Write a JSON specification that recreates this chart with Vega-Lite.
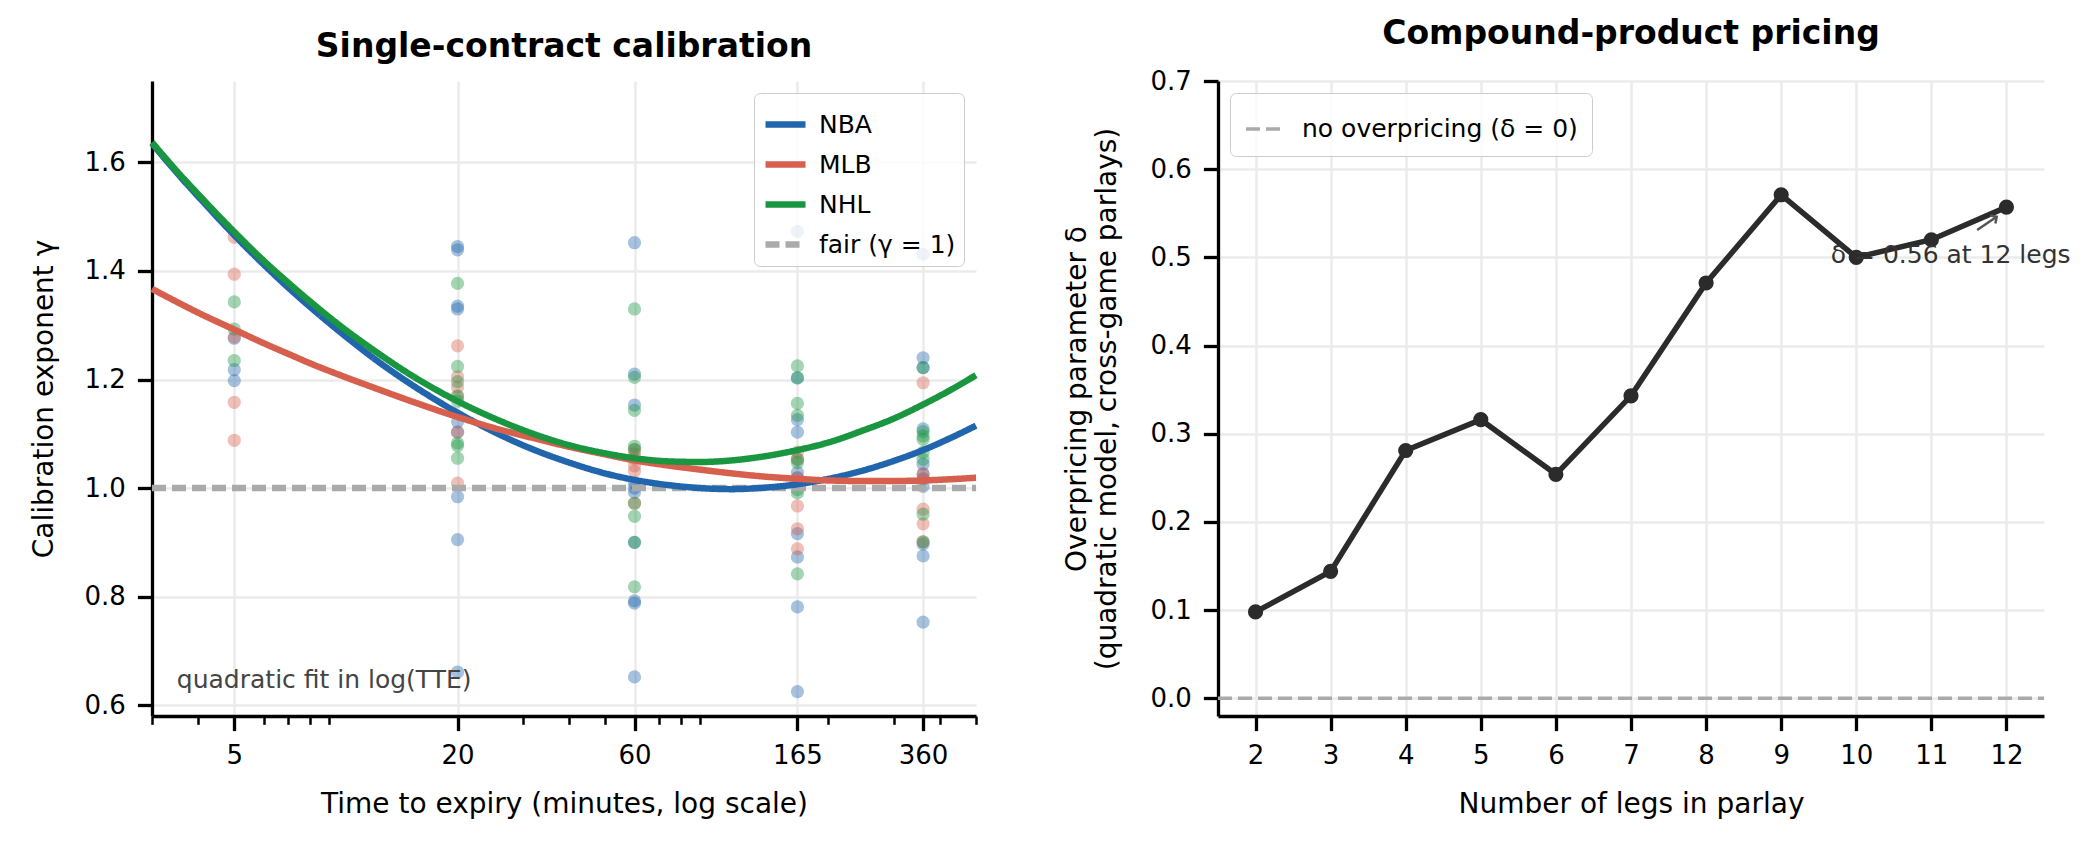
{
  "$schema": "https://vega.github.io/schema/vega-lite/v6.json",
  "background": "white",
  "padding": {"left": 30, "top": 18, "right": 0, "bottom": 0},
  "spacing": 74,
  "resolve": {"scale": {"color": "independent", "strokeDash": "independent", "strokeWidth": "independent"}, "legend": {"color": "independent", "strokeDash": "independent", "strokeWidth": "independent"}},
  "config": {
    "font": "DejaVu Sans",
    "view": {"stroke": null},
    "axis": {
      "domainColor": "#000000", "domainWidth": 3.3,
      "tickColor": "#000000", "tickWidth": 3.3, "tickSize": 14.6,
      "labelFont": "DejaVu Sans", "labelFontSize": 26, "labelColor": "#000000", "labelPadding": 12,
      "titleFont": "DejaVu Sans", "titleFontSize": 28, "titleFontWeight": "normal", "titleColor": "#000000",
      "gridColor": "#ebebeb", "gridWidth": 2.5
    },
    "title": {"font": "DejaVu Sans", "fontSize": 33, "fontWeight": "bold", "color": "#000000", "offset": 17, "baseline": "alphabetic", "frame": "group", "anchor": "middle"},
    "legend": {"labelFont": "DejaVu Sans", "labelFontSize": 25, "labelColor": "#000000", "labelLimit": 0}
  },
  "datasets": {
    "scatter": [
      {"tte": 5, "gamma": 1.276, "league": "NBA"}, {"tte": 5, "gamma": 1.218, "league": "NBA"}, {"tte": 5, "gamma": 1.198, "league": "NBA"},
      {"tte": 5, "gamma": 1.462, "league": "MLB"}, {"tte": 5, "gamma": 1.394, "league": "MLB"}, {"tte": 5, "gamma": 1.278, "league": "MLB"}, {"tte": 5, "gamma": 1.158, "league": "MLB"}, {"tte": 5, "gamma": 1.088, "league": "MLB"},
      {"tte": 5, "gamma": 1.343, "league": "NHL"}, {"tte": 5, "gamma": 1.293, "league": "NHL"}, {"tte": 5, "gamma": 1.235, "league": "NHL"},
      {"tte": 20, "gamma": 1.445, "league": "NBA"}, {"tte": 20, "gamma": 1.439, "league": "NBA"}, {"tte": 20, "gamma": 1.335, "league": "NBA"}, {"tte": 20, "gamma": 1.330, "league": "NBA"}, {"tte": 20, "gamma": 1.122, "league": "NBA"}, {"tte": 20, "gamma": 1.103, "league": "NBA"}, {"tte": 20, "gamma": 0.984, "league": "NBA"}, {"tte": 20, "gamma": 0.905, "league": "NBA"}, {"tte": 20, "gamma": 0.661, "league": "NBA"},
      {"tte": 20, "gamma": 1.262, "league": "MLB"}, {"tte": 20, "gamma": 1.205, "league": "MLB"}, {"tte": 20, "gamma": 1.186, "league": "MLB"}, {"tte": 20, "gamma": 1.168, "league": "MLB"}, {"tte": 20, "gamma": 1.103, "league": "MLB"}, {"tte": 20, "gamma": 1.009, "league": "MLB"},
      {"tte": 20, "gamma": 1.377, "league": "NHL"}, {"tte": 20, "gamma": 1.224, "league": "NHL"}, {"tte": 20, "gamma": 1.196, "league": "NHL"}, {"tte": 20, "gamma": 1.170, "league": "NHL"}, {"tte": 20, "gamma": 1.160, "league": "NHL"}, {"tte": 20, "gamma": 1.083, "league": "NHL"}, {"tte": 20, "gamma": 1.078, "league": "NHL"}, {"tte": 20, "gamma": 1.055, "league": "NHL"},
      {"tte": 60, "gamma": 1.452, "league": "NBA"}, {"tte": 60, "gamma": 1.210, "league": "NBA"}, {"tte": 60, "gamma": 1.153, "league": "NBA"}, {"tte": 60, "gamma": 1.009, "league": "NBA"}, {"tte": 60, "gamma": 1.000, "league": "NBA"}, {"tte": 60, "gamma": 0.992, "league": "NBA"}, {"tte": 60, "gamma": 0.900, "league": "NBA"}, {"tte": 60, "gamma": 0.792, "league": "NBA"}, {"tte": 60, "gamma": 0.788, "league": "NBA"}, {"tte": 60, "gamma": 0.652, "league": "NBA"},
      {"tte": 60, "gamma": 1.071, "league": "MLB"}, {"tte": 60, "gamma": 1.063, "league": "MLB"}, {"tte": 60, "gamma": 1.054, "league": "MLB"}, {"tte": 60, "gamma": 1.041, "league": "MLB"}, {"tte": 60, "gamma": 1.031, "league": "MLB"}, {"tte": 60, "gamma": 0.972, "league": "MLB"},
      {"tte": 60, "gamma": 1.330, "league": "NHL"}, {"tte": 60, "gamma": 1.204, "league": "NHL"}, {"tte": 60, "gamma": 1.143, "league": "NHL"}, {"tte": 60, "gamma": 1.077, "league": "NHL"}, {"tte": 60, "gamma": 1.071, "league": "NHL"}, {"tte": 60, "gamma": 0.972, "league": "NHL"}, {"tte": 60, "gamma": 0.948, "league": "NHL"}, {"tte": 60, "gamma": 0.900, "league": "NHL"}, {"tte": 60, "gamma": 0.818, "league": "NHL"},
      {"tte": 165, "gamma": 1.473, "league": "NBA"}, {"tte": 165, "gamma": 1.203, "league": "NBA"}, {"tte": 165, "gamma": 1.126, "league": "NBA"}, {"tte": 165, "gamma": 1.103, "league": "NBA"}, {"tte": 165, "gamma": 1.029, "league": "NBA"}, {"tte": 165, "gamma": 1.019, "league": "NBA"}, {"tte": 165, "gamma": 0.916, "league": "NBA"}, {"tte": 165, "gamma": 0.873, "league": "NBA"}, {"tte": 165, "gamma": 0.781, "league": "NBA"}, {"tte": 165, "gamma": 0.625, "league": "NBA"},
      {"tte": 165, "gamma": 1.066, "league": "MLB"}, {"tte": 165, "gamma": 1.053, "league": "MLB"}, {"tte": 165, "gamma": 1.019, "league": "MLB"}, {"tte": 165, "gamma": 0.967, "league": "MLB"}, {"tte": 165, "gamma": 0.925, "league": "MLB"}, {"tte": 165, "gamma": 0.888, "league": "MLB"},
      {"tte": 165, "gamma": 1.225, "league": "NHL"}, {"tte": 165, "gamma": 1.203, "league": "NHL"}, {"tte": 165, "gamma": 1.156, "league": "NHL"}, {"tte": 165, "gamma": 1.134, "league": "NHL"}, {"tte": 165, "gamma": 1.053, "league": "NHL"}, {"tte": 165, "gamma": 1.047, "league": "NHL"}, {"tte": 165, "gamma": 1.006, "league": "NHL"}, {"tte": 165, "gamma": 0.997, "league": "NHL"}, {"tte": 165, "gamma": 0.991, "league": "NHL"}, {"tte": 165, "gamma": 0.842, "league": "NHL"},
      {"tte": 360, "gamma": 1.431, "league": "NBA"}, {"tte": 360, "gamma": 1.240, "league": "NBA"}, {"tte": 360, "gamma": 1.222, "league": "NBA"}, {"tte": 360, "gamma": 1.109, "league": "NBA"}, {"tte": 360, "gamma": 1.044, "league": "NBA"}, {"tte": 360, "gamma": 1.026, "league": "NBA"}, {"tte": 360, "gamma": 1.017, "league": "NBA"}, {"tte": 360, "gamma": 1.003, "league": "NBA"}, {"tte": 360, "gamma": 0.897, "league": "NBA"}, {"tte": 360, "gamma": 0.875, "league": "NBA"}, {"tte": 360, "gamma": 0.753, "league": "NBA"},
      {"tte": 360, "gamma": 1.194, "league": "MLB"}, {"tte": 360, "gamma": 1.026, "league": "MLB"}, {"tte": 360, "gamma": 1.017, "league": "MLB"}, {"tte": 360, "gamma": 0.961, "league": "MLB"}, {"tte": 360, "gamma": 0.934, "league": "MLB"}, {"tte": 360, "gamma": 0.901, "league": "MLB"},
      {"tte": 360, "gamma": 1.222, "league": "NHL"}, {"tte": 360, "gamma": 1.104, "league": "NHL"}, {"tte": 360, "gamma": 1.096, "league": "NHL"}, {"tte": 360, "gamma": 1.090, "league": "NHL"}, {"tte": 360, "gamma": 1.066, "league": "NHL"}, {"tte": 360, "gamma": 1.053, "league": "NHL"}, {"tte": 360, "gamma": 0.952, "league": "NHL"}, {"tte": 360, "gamma": 0.901, "league": "NHL"}
    ],
    "curves": [
      {"tte": 3, "gamma": 1.0, "series": "fair (γ = 1)"}, {"tte": 500, "gamma": 1.0, "series": "fair (γ = 1)"},
      {"tte": 3, "gamma": 1.635, "series": "NBA"}, {"tte": 3.5, "gamma": 1.581, "series": "NBA"}, {"tte": 4, "gamma": 1.537, "series": "NBA"}, {"tte": 5, "gamma": 1.466, "series": "NBA"}, {"tte": 6, "gamma": 1.412, "series": "NBA"}, {"tte": 7, "gamma": 1.369, "series": "NBA"}, {"tte": 8, "gamma": 1.334, "series": "NBA"}, {"tte": 10, "gamma": 1.279, "series": "NBA"}, {"tte": 12, "gamma": 1.237, "series": "NBA"}, {"tte": 15, "gamma": 1.191, "series": "NBA"}, {"tte": 20, "gamma": 1.139, "series": "NBA"}, {"tte": 25, "gamma": 1.104, "series": "NBA"}, {"tte": 30, "gamma": 1.079, "series": "NBA"}, {"tte": 40, "gamma": 1.047, "series": "NBA"}, {"tte": 50, "gamma": 1.027, "series": "NBA"}, {"tte": 60, "gamma": 1.015, "series": "NBA"}, {"tte": 75, "gamma": 1.005, "series": "NBA"}, {"tte": 90, "gamma": 1.000, "series": "NBA"}, {"tte": 110, "gamma": 0.998, "series": "NBA"}, {"tte": 130, "gamma": 1.000, "series": "NBA"}, {"tte": 165, "gamma": 1.007, "series": "NBA"}, {"tte": 200, "gamma": 1.017, "series": "NBA"}, {"tte": 250, "gamma": 1.033, "series": "NBA"}, {"tte": 300, "gamma": 1.050, "series": "NBA"}, {"tte": 360, "gamma": 1.070, "series": "NBA"}, {"tte": 420, "gamma": 1.090, "series": "NBA"}, {"tte": 500, "gamma": 1.115, "series": "NBA"},
      {"tte": 3, "gamma": 1.367, "series": "MLB"}, {"tte": 3.5, "gamma": 1.343, "series": "MLB"}, {"tte": 4, "gamma": 1.323, "series": "MLB"}, {"tte": 5, "gamma": 1.292, "series": "MLB"}, {"tte": 6, "gamma": 1.267, "series": "MLB"}, {"tte": 7, "gamma": 1.247, "series": "MLB"}, {"tte": 8, "gamma": 1.230, "series": "MLB"}, {"tte": 10, "gamma": 1.204, "series": "MLB"}, {"tte": 12, "gamma": 1.184, "series": "MLB"}, {"tte": 15, "gamma": 1.160, "series": "MLB"}, {"tte": 20, "gamma": 1.131, "series": "MLB"}, {"tte": 25, "gamma": 1.111, "series": "MLB"}, {"tte": 30, "gamma": 1.097, "series": "MLB"}, {"tte": 40, "gamma": 1.076, "series": "MLB"}, {"tte": 50, "gamma": 1.062, "series": "MLB"}, {"tte": 60, "gamma": 1.051, "series": "MLB"}, {"tte": 75, "gamma": 1.041, "series": "MLB"}, {"tte": 90, "gamma": 1.034, "series": "MLB"}, {"tte": 110, "gamma": 1.027, "series": "MLB"}, {"tte": 130, "gamma": 1.022, "series": "MLB"}, {"tte": 165, "gamma": 1.017, "series": "MLB"}, {"tte": 200, "gamma": 1.014, "series": "MLB"}, {"tte": 250, "gamma": 1.013, "series": "MLB"}, {"tte": 300, "gamma": 1.013, "series": "MLB"}, {"tte": 360, "gamma": 1.014, "series": "MLB"}, {"tte": 420, "gamma": 1.016, "series": "MLB"}, {"tte": 500, "gamma": 1.019, "series": "MLB"},
      {"tte": 3, "gamma": 1.637, "series": "NHL"}, {"tte": 3.5, "gamma": 1.584, "series": "NHL"}, {"tte": 4, "gamma": 1.541, "series": "NHL"}, {"tte": 5, "gamma": 1.472, "series": "NHL"}, {"tte": 6, "gamma": 1.419, "series": "NHL"}, {"tte": 7, "gamma": 1.378, "series": "NHL"}, {"tte": 8, "gamma": 1.344, "series": "NHL"}, {"tte": 10, "gamma": 1.291, "series": "NHL"}, {"tte": 12, "gamma": 1.252, "series": "NHL"}, {"tte": 15, "gamma": 1.208, "series": "NHL"}, {"tte": 20, "gamma": 1.160, "series": "NHL"}, {"tte": 25, "gamma": 1.129, "series": "NHL"}, {"tte": 30, "gamma": 1.107, "series": "NHL"}, {"tte": 40, "gamma": 1.079, "series": "NHL"}, {"tte": 50, "gamma": 1.064, "series": "NHL"}, {"tte": 60, "gamma": 1.055, "series": "NHL"}, {"tte": 75, "gamma": 1.049, "series": "NHL"}, {"tte": 90, "gamma": 1.048, "series": "NHL"}, {"tte": 110, "gamma": 1.051, "series": "NHL"}, {"tte": 130, "gamma": 1.057, "series": "NHL"}, {"tte": 165, "gamma": 1.070, "series": "NHL"}, {"tte": 200, "gamma": 1.084, "series": "NHL"}, {"tte": 250, "gamma": 1.107, "series": "NHL"}, {"tte": 300, "gamma": 1.128, "series": "NHL"}, {"tte": 360, "gamma": 1.154, "series": "NHL"}, {"tte": 420, "gamma": 1.178, "series": "NHL"}, {"tte": 500, "gamma": 1.208, "series": "NHL"}
    ],
    "minorTicks": [
      {"tte": 3}, {"tte": 4}, {"tte": 6}, {"tte": 7}, {"tte": 8}, {"tte": 9}, {"tte": 30}, {"tte": 40}, {"tte": 50}, {"tte": 70}, {"tte": 80}, {"tte": 90}, {"tte": 200}, {"tte": 300}, {"tte": 400}, {"tte": 500}
    ],
    "parlay": [
      {"legs": 2, "delta": 0.098}, {"legs": 3, "delta": 0.144}, {"legs": 4, "delta": 0.281}, {"legs": 5, "delta": 0.316}, {"legs": 6, "delta": 0.254}, {"legs": 7, "delta": 0.343}, {"legs": 8, "delta": 0.471}, {"legs": 9, "delta": 0.571}, {"legs": 10, "delta": 0.500}, {"legs": 11, "delta": 0.520}, {"legs": 12, "delta": 0.557}
    ],
    "zeroLine": [
      {"legs": 1.5, "delta": 0}, {"legs": 12.5, "delta": 0}
    ]
  },
  "hconcat": [
    {
      "title": {"text": "Single-contract calibration"},
      "width": 824,
      "height": 635,
      "layer": [
        {
          "data": {"name": "scatter"},
          "mark": {"type": "circle", "size": 175, "opacity": 0.4},
          "encoding": {
            "x": {"field": "tte", "type": "quantitative", "scale": {"type": "log", "domain": [3, 500], "nice": false},
                  "axis": {"values": [5, 20, 60, 165, 360], "format": "d", "title": "Time to expiry (minutes, log scale)", "grid": true, "titlePadding": 22}},
            "y": {"field": "gamma", "type": "quantitative", "scale": {"domain": [0.58, 1.75], "nice": false, "zero": false},
                  "axis": {"values": [0.6, 0.8, 1.0, 1.2, 1.4, 1.6], "format": ".1f", "title": "Calibration exponent γ", "grid": true, "titlePadding": 26}},
            "color": {"field": "league", "type": "nominal", "scale": {"domain": ["NBA", "MLB", "NHL"], "range": ["#2166ac", "#d6604d", "#1a9641"]}, "legend": null}
          }
        },
        {
          "data": {"name": "curves"},
          "mark": {"type": "line", "interpolate": "monotone"},
          "encoding": {
            "x": {"field": "tte", "type": "quantitative", "scale": {"type": "log", "domain": [3, 500], "nice": false}, "axis": null},
            "y": {"field": "gamma", "type": "quantitative"},
            "color": {"field": "series", "type": "nominal",
                      "scale": {"domain": ["NBA", "MLB", "NHL", "fair (γ = 1)"], "range": ["#2166ac", "#d6604d", "#1a9641", "#aaaaaa"]},
                      "legend": {"title": null, "orient": "top-right", "offset": 12, "symbolType": "stroke", "symbolSize": 1600, "labelOffset": 10, "padding": 8, "rowPadding": 3, "strokeColor": "#cccccc", "fillColor": "rgba(255,255,255,0.8)", "cornerRadius": 6}},
            "strokeDash": {"field": "series", "type": "nominal",
                      "scale": {"domain": ["NBA", "MLB", "NHL", "fair (γ = 1)"], "range": [[1, 0], [1, 0], [1, 0], [14, 6]]},
                      "legend": {"title": null, "orient": "top-right", "offset": 12, "symbolType": "stroke", "symbolSize": 1600, "labelOffset": 10, "padding": 8, "rowPadding": 3, "strokeColor": "#cccccc", "fillColor": "rgba(255,255,255,0.8)", "cornerRadius": 6}},
            "strokeWidth": {"field": "series", "type": "nominal",
                      "scale": {"domain": ["NBA", "MLB", "NHL", "fair (γ = 1)"], "range": [6.5, 6.5, 6.5, 3.5]},
                      "legend": {"title": null, "orient": "top-right", "offset": 12, "symbolType": "stroke", "symbolSize": 1600, "labelOffset": 10, "padding": 8, "rowPadding": 3, "strokeColor": "#cccccc", "fillColor": "rgba(255,255,255,0.8)", "cornerRadius": 6}}
          }
        },
        {
          "data": {"values": [{}]},
          "mark": {"type": "text", "align": "left", "baseline": "middle", "fontSize": 25, "color": "#444444"},
          "encoding": {
            "x": {"datum": 3.5, "type": "quantitative", "scale": {"type": "log", "domain": [3, 500], "nice": false}, "axis": null},
            "y": {"datum": 0.646, "type": "quantitative"},
            "text": {"value": "quadratic fit in log(TTE)"}
          }
        },
        {
          "data": {"name": "minorTicks"},
          "mark": {"type": "point", "opacity": 0},
          "encoding": {
            "x": {"field": "tte", "type": "quantitative", "scale": {"type": "log", "domain": [3, 500], "nice": false},
                  "axis": {"orient": "bottom", "values": [3, 4, 6, 7, 8, 9, 30, 40, 50, 70, 80, 90, 200, 300, 400, 500], "labels": false, "domain": false, "grid": false, "title": null, "tickSize": 8.3, "tickWidth": 2.5}}
          }
        }
      ],
      "resolve": {"scale": {"color": "independent", "strokeDash": "independent", "strokeWidth": "independent"}, "axis": {"x": "independent"}}
    },
    {
      "title": {"text": "Compound-product pricing"},
      "width": 826,
      "height": 635,
      "layer": [
        {
          "data": {"name": "zeroLine"},
          "mark": {"type": "line", "strokeWidth": 3.5},
          "encoding": {
            "x": {"field": "legs", "type": "quantitative", "scale": {"domain": [1.5, 12.5], "nice": false, "zero": false},
                  "axis": {"values": [2, 3, 4, 5, 6, 7, 8, 9, 10, 11, 12], "format": "d", "title": "Number of legs in parlay", "grid": true, "titlePadding": 22}},
            "y": {"field": "delta", "type": "quantitative", "scale": {"domain": [-0.02, 0.7], "nice": false, "zero": false},
                  "axis": {"values": [0, 0.1, 0.2, 0.3, 0.4, 0.5, 0.6, 0.7], "format": ".1f", "title": ["Overpricing parameter δ", "(quadratic model, cross-game parlays)"], "titleLineHeight": 30, "grid": true, "titlePadding": 29}},
            "color": {"datum": "no overpricing (δ = 0)", "type": "nominal", "scale": {"range": ["#aaaaaa"]},
                      "legend": {"title": null, "orient": "top-left", "offset": 12, "symbolType": "stroke", "symbolSize": 1600, "symbolStrokeWidth": 3.5, "labelOffset": 14, "padding": 14, "strokeColor": "#cccccc", "fillColor": "rgba(255,255,255,0.8)", "cornerRadius": 6}},
            "strokeDash": {"datum": "no overpricing (δ = 0)", "type": "nominal", "scale": {"range": [[14, 6]]},
                      "legend": {"title": null, "orient": "top-left", "offset": 12, "symbolType": "stroke", "symbolSize": 1600, "symbolStrokeWidth": 3.5, "labelOffset": 14, "padding": 14, "strokeColor": "#cccccc", "fillColor": "rgba(255,255,255,0.8)", "cornerRadius": 6}}
          }
        },
        {
          "data": {"name": "parlay"},
          "mark": {"type": "line", "color": "#2b2b2b", "strokeWidth": 5.5, "point": {"filled": true, "size": 230, "color": "#2b2b2b"}},
          "encoding": {
            "x": {"field": "legs", "type": "quantitative"},
            "y": {"field": "delta", "type": "quantitative"}
          }
        },
        {
          "data": {"values": [{}]},
          "mark": {"type": "rule", "color": "#555555", "strokeWidth": 2.5},
          "encoding": {
            "x": {"datum": 11.61, "type": "quantitative"},
            "y": {"datum": 0.531, "type": "quantitative"},
            "x2": {"datum": 11.87},
            "y2": {"datum": 0.546}
          }
        },
        {
          "data": {"values": [{}]},
          "mark": {"type": "point", "shape": "M-1,-1L0,0L-1,1", "filled": false, "stroke": "#555555", "strokeWidth": 2.5, "size": 90, "angle": 326, "opacity": 1},
          "encoding": {
            "x": {"datum": 11.87, "type": "quantitative"},
            "y": {"datum": 0.546, "type": "quantitative"}
          }
        },
        {
          "data": {"values": [{}]},
          "mark": {"type": "text", "align": "left", "baseline": "middle", "fontSize": 25, "color": "#333333"},
          "encoding": {
            "x": {"datum": 9.66, "type": "quantitative"},
            "y": {"datum": 0.503, "type": "quantitative"},
            "text": {"value": "δ = 0.56 at 12 legs"}
          }
        }
      ]
    }
  ]
}
